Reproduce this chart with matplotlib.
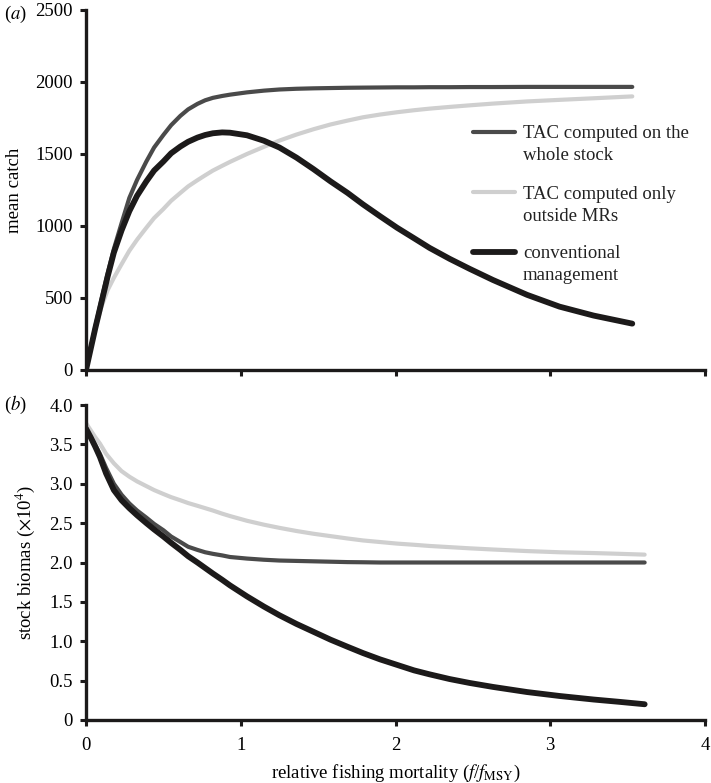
import matplotlib
matplotlib.use("Agg")
import matplotlib.pyplot as plt

plt.rcParams['font.family'] = ['Liberation Serif', 'DejaVu Serif']
plt.rcParams['mathtext.fontset'] = 'stix'

# ---- data ----
x_top = [0, 0.03, 0.06, 0.1, 0.14, 0.18, 0.23, 0.28, 0.33, 0.39, 0.44, 0.5, 0.55,
         0.61, 0.66, 0.72, 0.77, 0.82, 0.88, 0.93, 1.04, 1.15, 1.25, 1.36, 1.47,
         1.58, 1.69, 1.79, 1.9, 2.01, 2.12, 2.22, 2.35, 2.48, 2.63, 2.85, 3.06,
         3.28, 3.53]
catch_whole = [0, 150, 300, 490, 670, 840, 1020, 1195, 1320, 1448, 1545, 1632, 1700,
               1765, 1810, 1848, 1873, 1890, 1903, 1912, 1928, 1940, 1948, 1953, 1956,
               1958, 1960, 1961, 1962, 1963, 1963, 1964, 1964, 1965, 1965, 1966, 1966,
               1966, 1966]
catch_outside = [0, 150, 290, 440, 555, 640, 735, 828, 905, 988, 1055, 1118, 1175,
                 1230, 1275, 1318, 1352, 1385, 1418, 1445, 1500, 1550, 1593, 1635, 1672,
                 1705, 1732, 1755, 1774, 1790, 1804, 1815, 1827, 1838, 1850, 1865, 1876,
                 1887, 1900]
catch_conv = [0, 145, 290, 470, 650, 815, 970, 1103, 1210, 1310, 1385, 1448, 1505,
              1552, 1585, 1614, 1632, 1644, 1650, 1648, 1630, 1592, 1545, 1475, 1395,
              1310, 1230, 1150, 1068, 988, 915, 848, 772, 702, 625, 522, 440,
              378, 322]

x_bot = [0, 0.03, 0.06, 0.09, 0.13, 0.18, 0.23, 0.28, 0.33, 0.39, 0.44, 0.5, 0.55,
         0.61, 0.66, 0.72, 0.77, 0.82, 0.88, 0.93, 1.04, 1.15, 1.25, 1.36, 1.47,
         1.58, 1.69, 1.79, 1.9, 2.01, 2.12, 2.22, 2.35, 2.48, 2.63, 2.85, 3.06,
         3.28, 3.45, 3.61]
bio_whole = [3.68, 3.59, 3.49, 3.38, 3.20, 3.00, 2.86, 2.75, 2.66, 2.57, 2.49, 2.41, 2.33,
             2.26, 2.20, 2.16, 2.13, 2.11, 2.09, 2.07, 2.05, 2.035, 2.025, 2.02, 2.015,
             2.01, 2.005, 2.003, 2.0, 2.0, 2.0, 2.0, 2.0, 2.0, 2.0, 2.0, 2.0,
             2.0, 2.0, 2.0]
bio_outside = [3.77, 3.68, 3.59, 3.51, 3.38, 3.26, 3.16, 3.09, 3.03, 2.97, 2.92, 2.87, 2.83,
               2.79, 2.755, 2.72, 2.69, 2.66, 2.62, 2.59, 2.53, 2.48, 2.44, 2.40, 2.365,
               2.335, 2.305, 2.28, 2.26, 2.24, 2.225, 2.21, 2.195, 2.18, 2.165, 2.145, 2.13,
               2.12, 2.11, 2.10]
bio_conv = [3.70, 3.59, 3.47, 3.34, 3.13, 2.92, 2.79, 2.69, 2.60, 2.50, 2.42, 2.33, 2.25,
            2.16, 2.08, 2.00, 1.93, 1.86, 1.78, 1.71, 1.57, 1.44, 1.33, 1.22, 1.12,
            1.02, 0.93, 0.85, 0.77, 0.70, 0.63, 0.58, 0.52, 0.47, 0.42, 0.355, 0.305,
            0.26, 0.23, 0.20]

labels = ["TAC computed on the\nwhole stock",
          "TAC computed only\noutside MRs",
          "conventional\nmanagement"]
colors = ["#4a4a4a", "#cfcfcf", "#1c1a1a"]
widths = [3.0, 3.0, 4.2]

top_yticks = [0, 500, 1000, 1500, 2000, 2500]
bot_yticks = [0, 0.5, 1.0, 1.5, 2.0, 2.5, 3.0, 3.5, 4.0]
bot_yticklabels = ["0", "0.5", "1.0", "1.5", "2.0", "2.5", "3.0", "3.5", "4.0"]
xticks = [0, 1, 2, 3, 4]

FS = 13.5

fig = plt.figure(figsize=(7.11, 7.83), dpi=100)
ax1 = fig.add_axes([86/711, 1-370/783, 619/711, 360/783])
ax2 = fig.add_axes([86/711, 1-720/783, 619/711, 315/783])

top_series = [catch_whole, catch_outside, catch_conv]
bot_series = [bio_whole, bio_outside, bio_conv]
order = [1, 0, 2]
for i in order:
    ax1.plot(x_top, top_series[i], color=colors[i], lw=widths[i],
             solid_capstyle='round', solid_joinstyle='round')
    ax2.plot(x_bot, bot_series[i], color=colors[i], lw=widths[i],
             solid_capstyle='round', solid_joinstyle='round')

for ax in (ax1, ax2):
    for s in ('top', 'right'):
        ax.spines[s].set_visible(False)
    for s in ('left', 'bottom'):
        ax.spines[s].set_linewidth(2.4)
        ax.spines[s].set_color('#1c1a1a')
    ax.tick_params(direction='out', length=4, width=2.2, color='#1c1a1a',
                   labelsize=FS)
    ax.tick_params(axis='y', pad=5.5)
    ax.tick_params(axis='x', pad=8.5)
    ax.set_xlim(0, 4)
    ax.set_xticks(xticks)

ax1.set_ylim(0, 2500)
ax1.set_yticks(top_yticks)
ax1.set_xticklabels([])
ax1.set_ylabel("mean catch", fontsize=FS, labelpad=9)

ax2.set_ylim(0, 4)
ax2.set_yticks(bot_yticks)
ax2.set_yticklabels(bot_yticklabels)
ax2.set_xticklabels([str(t) for t in xticks])
ax2.set_ylabel(r"stock biomas ($\times$10$^4$)", fontsize=FS, labelpad=9)
ax2.set_xlabel(r"relative fishing mortality ($f$/$f_{\mathrm{MSY}}$)", fontsize=FS, labelpad=6)

# legend drawn manually to keep handles aligned with first text line
leg_y = [0.662, 0.494, 0.328]
line_gap = 0.061
for i, lab in enumerate(labels):
    ax1.plot([0.625, 0.693], [leg_y[i], leg_y[i]], transform=ax1.transAxes,
             color=colors[i], lw=widths[i], solid_capstyle='round', clip_on=False)
    for j, part in enumerate(lab.split("\n")):
        ax1.text(0.706, leg_y[i] - j*line_gap, part, transform=ax1.transAxes,
                 fontsize=FS, va='center_baseline', ha='left', color='#222222')

fig.text(4/711, 1-14/783, r"($a$)", fontsize=FS, va='center', ha='left')
fig.text(4/711, 1-405/783, r"($b$)", fontsize=FS, va='center', ha='left')

fig.savefig("out.png", dpi=100)
